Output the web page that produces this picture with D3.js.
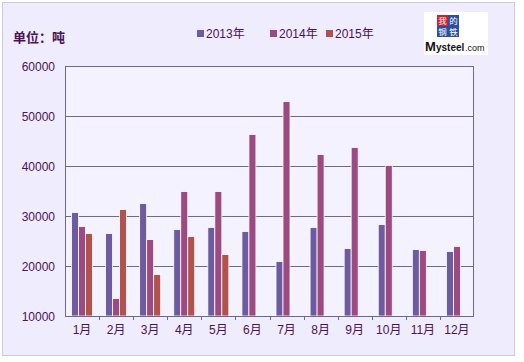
<!DOCTYPE html>
<html>
<head>
<meta charset="utf-8">
<script src="https://d3js.org/d3.v7.min.js"></script>
<style>
  body { margin: 0; background: #fff; }
  text { font-family: "Liberation Sans", "Noto Sans CJK SC", sans-serif; }
</style>
</head>
<body>
<script>
var months = ['1月', '2月', '3月', '4月', '5月', '6月', '7月', '8月', '9月', '10月', '11月', '12月']
var seriesNames = ['2013年', '2014年', '2015年']
var values2013 = [30700, 26500, 32500, 27300, 27700, 26900, 20900, 27700, 23500, 28300, 23300, 22900]
var values2014 = [27900, 13500, 25300, 34900, 34900, 46300, 52900, 42300, 43700, 40100, 23100, 23900]
var values2015 = [26500, 31300, 18300, 25900, 22300, null, null, null, null, null, null, null]
var yTicks = [10000, 20000, 30000, 40000, 50000, 60000]
var colors = ['#6c5b9f', '#9c4a81', '#b2524e']

var w = 524
var h = 362
var svg = d3.select('body').append('svg').attr('width', w).attr('height', h)

// outer frame
svg.append('rect').attr('x', 2.5).attr('y', 2.5).attr('width', 512).attr('height', 353)
    .attr('fill', '#efedfd').attr('stroke', '#c9c9e6')

var plotLeft = 65, plotRight = 474, plotTop = 66, plotBottom = 316

// plot area
svg.append('rect').attr('x', plotLeft).attr('y', plotTop)
    .attr('width', plotRight - plotLeft).attr('height', plotBottom - plotTop)
    .attr('fill', '#f3f2fe')

var x0 = d3.scaleBand().domain(months).range([plotLeft, plotRight])
var x1 = d3.scaleBand().domain(seriesNames).range([6.5, 27.5])
var y = d3.scaleLinear().domain([10000, 60000]).range([plotBottom, plotTop])

// gridlines
svg.selectAll('line.grid')
    .data(yTicks)
    .enter()
    .append('line')
    .attr('class', 'grid')
    .attr('x1', plotLeft).attr('x2', plotRight)
    .attr('y1', function(d) { return Math.round(y(d)) + 0.5 })
    .attr('y2', function(d) { return Math.round(y(d)) + 0.5 })
    .attr('stroke', '#6b6a8c').attr('stroke-width', 1)

// bars
var series = [values2013, values2014, values2015]
series.forEach(function(vals, si) {
    svg.append('g').selectAll('rect')
        .data(vals.map(function(v, i) { return { m: months[i], v: v } }).filter(function(d) { return d.v != null }))
        .enter()
        .append('rect')
        .attr('x', function(d) { return x0(d.m) + x1(seriesNames[si]) })
        .attr('y', function(d) { return y(d.v) })
        .attr('width', x1.bandwidth())
        .attr('height', function(d) { return plotBottom - y(d.v) })
        .attr('fill', colors[si])
        .attr('stroke', '#ffffff')
        .attr('stroke-width', 0.8)
})

// plot border
svg.append('rect').attr('x', plotLeft + 0.5).attr('y', plotTop + 0.5)
    .attr('width', plotRight - plotLeft - 1).attr('height', plotBottom - plotTop)
    .attr('fill', 'none').attr('stroke', '#6b6a8c')

// x axis ticks
svg.selectAll('line.xtick')
    .data(months.slice(1))
    .enter()
    .append('line')
    .attr('x1', function(d) { return Math.round(x0(d)) + 0.5 })
    .attr('x2', function(d) { return Math.round(x0(d)) + 0.5 })
    .attr('y1', plotBottom).attr('y2', plotBottom + 4)
    .attr('stroke', '#6b6a8c')

// y labels
svg.selectAll('text.ylab')
    .data(yTicks)
    .enter()
    .append('text')
    .text(function(d) { return d })
    .attr('x', 55)
    .attr('y', function(d) { return y(d) + 5 })
    .attr('text-anchor', 'end')
    .attr('font-size', '12px')
    .attr('fill', '#4b1152')

// x labels
svg.selectAll('text.xlab')
    .data(months)
    .enter()
    .append('text')
    .text(function(d) { return d })
    .attr('x', function(d) { return x0(d) + x0.bandwidth() / 2 })
    .attr('y', 334)
    .attr('text-anchor', 'middle')
    .attr('font-size', '12px')
    .attr('fill', '#4b1152')

// unit title
svg.append('text').text('单位：吨')
    .attr('x', 13).attr('y', 42)
    .attr('font-size', '13px').attr('font-weight', 'bold')
    .attr('fill', '#4b1152')
    .style('font-family', '"Noto Sans CJK SC", sans-serif')

// legend
var legendX = [197, 270, 326]
var legend = svg.selectAll('g.legend')
    .data(seriesNames)
    .enter()
    .append('g')
    .attr('transform', function(d, i) { return 'translate(' + legendX[i] + ',30)' })
legend.append('rect').attr('width', 7).attr('height', 7).attr('fill', function(d, i) { return colors[i] })
legend.append('text').text(function(d) { return d })
    .attr('x', 9).attr('y', 8)
    .attr('font-size', '12px').attr('fill', '#4b1152')

// logo
var logo = svg.append('g').attr('transform', 'translate(424,12)')
logo.append('rect').attr('width', 64).attr('height', 43).attr('fill', '#ffffff')
logo.append('rect').attr('x', 13).attr('y', 3).attr('width', 11).attr('height', 11).attr('fill', '#d0202a')
logo.append('rect').attr('x', 24).attr('y', 3).attr('width', 11).attr('height', 11).attr('fill', '#2a4f9e')
logo.append('rect').attr('x', 13).attr('y', 14).attr('width', 22).attr('height', 11).attr('fill', '#2a4f9e')
logo.selectAll('text.ch')
    .data([['我', 18.5, 12], ['的', 29.5, 12], ['钢', 18.5, 23], ['铁', 29.5, 23]])
    .enter()
    .append('text')
    .text(function(d) { return d[0] })
    .attr('x', function(d) { return d[1] })
    .attr('y', function(d) { return d[2] })
    .attr('text-anchor', 'middle')
    .attr('font-size', '8.5px').attr('fill', '#fff')
    .style('font-family', '"Noto Sans CJK SC", sans-serif')
logo.append('text').text('M').attr('x', 1).attr('y', 39).attr('font-size', '13px').attr('font-weight', 'bold').attr('fill', '#111')
logo.append('text').text('ysteel').attr('x', 12).attr('y', 39).attr('font-size', '10px').attr('font-weight', 'bold').attr('fill', '#111')
logo.append('text').text('.com').attr('x', 41).attr('y', 39).attr('font-size', '9px').attr('fill', '#111')
</script>
</body>
</html>
